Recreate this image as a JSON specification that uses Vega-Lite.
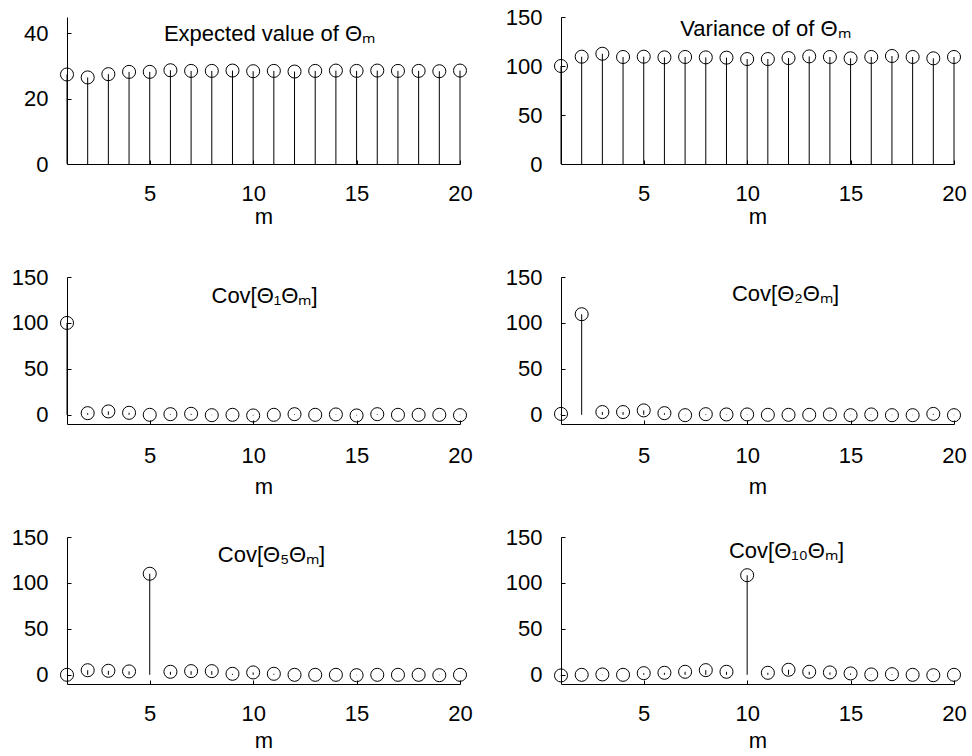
{
  "$schema": "https://vega.github.io/schema/vega-lite/v6.json",
  "padding": {"left": 11, "top": 6, "right": 0, "bottom": 0},
  "background": "white",
  "config": {
    "view": {"stroke": null},
    "font": "Liberation Sans",
    "axis": {
      "domainColor": "black", "tickColor": "black", "labelColor": "black", "titleColor": "black",
      "labelFontSize": 22, "titleFontSize": 22, "titleFontWeight": "normal",
      "labelFont": "Liberation Sans", "titleFont": "Liberation Sans",
      "grid": false, "tickSize": -4, "domainWidth": 1, "tickWidth": 1, "labelFlush": false, "labelOverlap": false
    },
    "axisY": {"labelPadding": 23, "title": null},
    "axisX": {"labelPadding": 23.5, "titlePadding": 6},
    "title": {"fontSize": 22, "fontWeight": "normal", "font": "Liberation Sans", "color": "black", "frame": "group", "anchor": "middle", "baseline": "alphabetic"},
    "rule": {"color": "black", "strokeWidth": 1},
    "point": {"shape": "circle", "filled": false, "size": 170, "stroke": "black", "strokeWidth": 1, "opacity": 1}
  },
  "datasets": {
    "ev": [
      {"m": 1, "v": 27.4}, {"m": 2, "v": 26.5}, {"m": 3, "v": 27.5}, {"m": 4, "v": 28.2}, {"m": 5, "v": 28.2},
      {"m": 6, "v": 28.7}, {"m": 7, "v": 28.5}, {"m": 8, "v": 28.5}, {"m": 9, "v": 28.6}, {"m": 10, "v": 28.4},
      {"m": 11, "v": 28.5}, {"m": 12, "v": 28.3}, {"m": 13, "v": 28.5}, {"m": 14, "v": 28.6}, {"m": 15, "v": 28.5},
      {"m": 16, "v": 28.6}, {"m": 17, "v": 28.5}, {"m": 18, "v": 28.5}, {"m": 19, "v": 28.4}, {"m": 20, "v": 28.6}
    ],
    "var": [
      {"m": 1, "v": 100}, {"m": 2, "v": 109.5}, {"m": 3, "v": 112.5}, {"m": 4, "v": 109.2}, {"m": 5, "v": 109.5},
      {"m": 6, "v": 108.8}, {"m": 7, "v": 109.2}, {"m": 8, "v": 108.8}, {"m": 9, "v": 108.5}, {"m": 10, "v": 107.1},
      {"m": 11, "v": 107.1}, {"m": 12, "v": 108.1}, {"m": 13, "v": 109.8}, {"m": 14, "v": 109.2}, {"m": 15, "v": 107.8},
      {"m": 16, "v": 109.2}, {"m": 17, "v": 110.2}, {"m": 18, "v": 109.2}, {"m": 19, "v": 107.8}, {"m": 20, "v": 109.2}
    ],
    "c1": [
      {"m": 1, "v": 100}, {"m": 2, "v": 1.8}, {"m": 3, "v": 3.7}, {"m": 4, "v": 2.2}, {"m": 5, "v": 0},
      {"m": 6, "v": 0.7}, {"m": 7, "v": 1.1}, {"m": 8, "v": -0.4}, {"m": 9, "v": 0}, {"m": 10, "v": -0.7},
      {"m": 11, "v": 0}, {"m": 12, "v": 0.7}, {"m": 13, "v": 0}, {"m": 14, "v": 0.4}, {"m": 15, "v": -0.7},
      {"m": 16, "v": 0.7}, {"m": 17, "v": 0}, {"m": 18, "v": 0}, {"m": 19, "v": 0}, {"m": 20, "v": -0.4}
    ],
    "c2": [
      {"m": 1, "v": 1}, {"m": 2, "v": 109.5}, {"m": 3, "v": 3}, {"m": 4, "v": 3}, {"m": 5, "v": 4.8},
      {"m": 6, "v": 1.8}, {"m": 7, "v": -0.4}, {"m": 8, "v": 0.7}, {"m": 9, "v": 0.4}, {"m": 10, "v": 0.4},
      {"m": 11, "v": 0}, {"m": 12, "v": 0}, {"m": 13, "v": 0}, {"m": 14, "v": 0.4}, {"m": 15, "v": -0.4},
      {"m": 16, "v": 0.4}, {"m": 17, "v": -0.4}, {"m": 18, "v": -0.4}, {"m": 19, "v": 1}, {"m": 20, "v": -0.4}
    ],
    "c5": [
      {"m": 1, "v": 0}, {"m": 2, "v": 5}, {"m": 3, "v": 4.4}, {"m": 4, "v": 3.7}, {"m": 5, "v": 110},
      {"m": 6, "v": 3.3}, {"m": 7, "v": 4}, {"m": 8, "v": 4}, {"m": 9, "v": 1.1}, {"m": 10, "v": 2.6},
      {"m": 11, "v": 1.1}, {"m": 12, "v": 0}, {"m": 13, "v": 0}, {"m": 14, "v": 0}, {"m": 15, "v": -0.4},
      {"m": 16, "v": 0}, {"m": 17, "v": 0}, {"m": 18, "v": 0}, {"m": 19, "v": -0.4}, {"m": 20, "v": 0}
    ],
    "c10": [
      {"m": 1, "v": -0.7}, {"m": 2, "v": 0}, {"m": 3, "v": 0.4}, {"m": 4, "v": 0}, {"m": 5, "v": 1.8},
      {"m": 6, "v": 2.2}, {"m": 7, "v": 3.3}, {"m": 8, "v": 5.1}, {"m": 9, "v": 3.3}, {"m": 10, "v": 108.4},
      {"m": 11, "v": 2.2}, {"m": 12, "v": 5.5}, {"m": 13, "v": 3.3}, {"m": 14, "v": 2.6}, {"m": 15, "v": 1.5},
      {"m": 16, "v": 0.4}, {"m": 17, "v": 0.7}, {"m": 18, "v": 0}, {"m": 19, "v": -0.4}, {"m": 20, "v": 0}
    ]
  },
  "columns": 2,
  "bounds": "flush",
  "spacing": {"row": 113, "column": 101},
  "concat": [
    {
      "width": 393, "height": 147,
      "title": {"text": "Expected value of Θₘ", "offset": -28.5, "dx": 6},
      "data": {"name": "ev"},
      "encoding": {"x": {"field": "m", "type": "quantitative", "scale": {"domain": [1, 20], "nice": false}, "axis": {"values": [5, 10, 15, 20], "title": "m", "titlePadding": 2}}},
      "layer": [
        {"mark": "rule", "encoding": {"y": {"field": "v", "type": "quantitative", "scale": {"domain": [0, 45], "nice": false}, "axis": {"values": [0, 20, 40]}}, "y2": {"datum": 0}}},
        {"mark": "point", "encoding": {"y": {"field": "v", "type": "quantitative", "scale": {"domain": [0, 45], "nice": false}}}}
      ]
    },
    {
      "width": 393, "height": 147,
      "title": {"text": "Variance of of Θₘ", "offset": -34.5, "dx": 8},
      "data": {"name": "var"},
      "encoding": {"x": {"field": "m", "type": "quantitative", "scale": {"domain": [1, 20], "nice": false}, "axis": {"values": [5, 10, 15, 20], "title": "m", "titlePadding": 2}}},
      "layer": [
        {"mark": "rule", "encoding": {"y": {"field": "v", "type": "quantitative", "scale": {"domain": [0, 150], "nice": false}, "axis": {"values": [0, 50, 100, 150]}}, "y2": {"datum": 0}}},
        {"mark": "point", "encoding": {"y": {"field": "v", "type": "quantitative", "scale": {"domain": [0, 150], "nice": false}}}}
      ]
    },
    {
      "width": 393, "height": 147,
      "title": {"text": "Cov[Θ₁Θₘ]", "offset": -41.5, "dx": 1},
      "data": {"name": "c1"},
      "encoding": {"x": {"field": "m", "type": "quantitative", "scale": {"domain": [1, 20], "nice": false}, "axis": {"values": [5, 10, 15, 20], "title": "m", "labelPadding": 25.5, "titlePadding": 10}}},
      "layer": [
        {"mark": "rule", "encoding": {"y": {"datum": 0, "type": "quantitative", "scale": {"domain": [-10, 150], "nice": false}}}},
        {"mark": "rule", "encoding": {"y": {"field": "v", "type": "quantitative", "scale": {"domain": [-10, 150], "nice": false}, "axis": {"values": [0, 50, 100, 150]}}, "y2": {"datum": 0}}},
        {"mark": "point", "encoding": {"y": {"field": "v", "type": "quantitative", "scale": {"domain": [-10, 150], "nice": false}}}}
      ]
    },
    {
      "width": 393, "height": 147,
      "title": {"text": "Cov[Θ₂Θₘ]", "offset": -39.5, "dx": 28},
      "data": {"name": "c2"},
      "encoding": {"x": {"field": "m", "type": "quantitative", "scale": {"domain": [1, 20], "nice": false}, "axis": {"values": [5, 10, 15, 20], "title": "m", "labelPadding": 25.5, "titlePadding": 10}}},
      "layer": [
        {"mark": "rule", "encoding": {"y": {"datum": 0, "type": "quantitative", "scale": {"domain": [-10, 150], "nice": false}}}},
        {"mark": "rule", "encoding": {"y": {"field": "v", "type": "quantitative", "scale": {"domain": [-10, 150], "nice": false}, "axis": {"values": [0, 50, 100, 150]}}, "y2": {"datum": 0}}},
        {"mark": "point", "encoding": {"y": {"field": "v", "type": "quantitative", "scale": {"domain": [-10, 150], "nice": false}}}}
      ]
    },
    {
      "width": 393, "height": 147,
      "title": {"text": "Cov[Θ₅Θₘ]", "offset": -40.5, "dx": 8},
      "data": {"name": "c5"},
      "encoding": {"x": {"field": "m", "type": "quantitative", "scale": {"domain": [1, 20], "nice": false}, "axis": {"values": [5, 10, 15, 20], "title": "m"}}},
      "layer": [
        {"mark": "rule", "encoding": {"y": {"datum": 0, "type": "quantitative", "scale": {"domain": [-10, 150], "nice": false}}}},
        {"mark": "rule", "encoding": {"y": {"field": "v", "type": "quantitative", "scale": {"domain": [-10, 150], "nice": false}, "axis": {"values": [0, 50, 100, 150]}}, "y2": {"datum": 0}}},
        {"mark": "point", "encoding": {"y": {"field": "v", "type": "quantitative", "scale": {"domain": [-10, 150], "nice": false}}}}
      ]
    },
    {
      "width": 393, "height": 147,
      "title": {"text": "Cov[Θ₁₀Θₘ]", "offset": -36.5, "dx": 29},
      "data": {"name": "c10"},
      "encoding": {"x": {"field": "m", "type": "quantitative", "scale": {"domain": [1, 20], "nice": false}, "axis": {"values": [5, 10, 15, 20], "title": "m"}}},
      "layer": [
        {"mark": "rule", "encoding": {"y": {"datum": 0, "type": "quantitative", "scale": {"domain": [-10, 150], "nice": false}}}},
        {"mark": "rule", "encoding": {"y": {"field": "v", "type": "quantitative", "scale": {"domain": [-10, 150], "nice": false}, "axis": {"values": [0, 50, 100, 150]}}, "y2": {"datum": 0}}},
        {"mark": "point", "encoding": {"y": {"field": "v", "type": "quantitative", "scale": {"domain": [-10, 150], "nice": false}}}}
      ]
    }
  ]
}
